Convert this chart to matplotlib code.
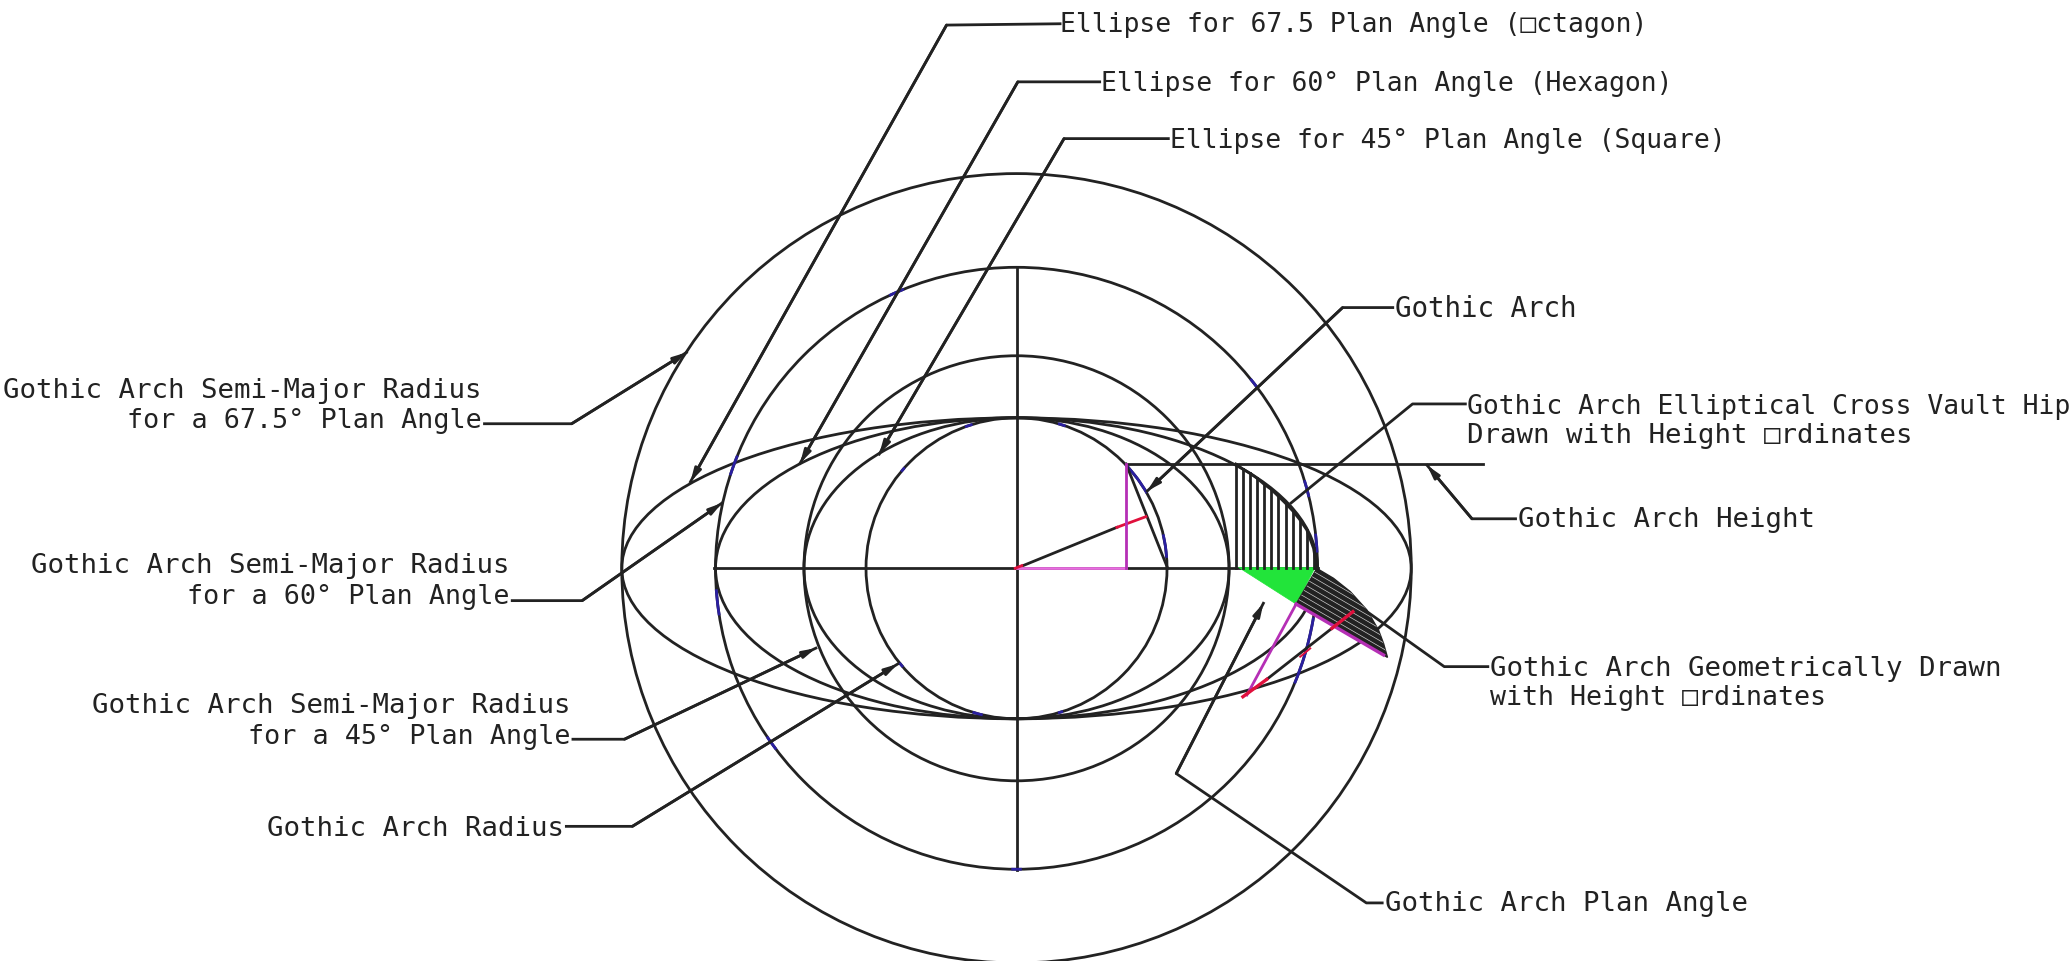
import numpy as np
import matplotlib
matplotlib.use("Agg")
import matplotlib.pyplot as plt
from matplotlib.patches import Arc, Circle, Ellipse, Polygon

center = (770, 430.5)
circle_radii = [299, 228, 161, 114]
ellipse_major = [299, 228, 161]
ellipse_minor = 114

# blue pieces of the circles: radius, start angle, end angle
blue_arcs = [
    (228, -39, -37), (228, -17, -13.7), (228, -6.6, -3), (228, 9.4, 22.5),
    (228, 198, 202), (228, 171, 176), (228, 143, 146), (228, 89, 91),
    (228, 245, 248),
    (114, -43.6, -30), (114, -13, -4), (114, 103, 107), (114, 72, 74),
    (114, 250, 253), (114, 286, 289), (114, 220, 222), (114, 139, 141),
]

# elevation of the hip with its height ordinates
ord_x = [936.1, 941.4, 947, 952.3, 957.6, 962.9, 968.2, 973.8, 979.1, 984.4, 989.9, 995, 997.5]
ord_y = [351.5, 355.3, 358.6, 362.4, 366.9, 370.7, 375.8, 381.3, 386.9, 393.4, 401.5, 415.4, 430.6]

green_tri = [(938.2, 429.8), (996.2, 429.8), (981.8, 457.6)]

# geometrically drawn arch, dark hatched shape
arch_x = [997.5, 1010.1, 1022.8, 1035.4, 1044.2, 1048, 1051]
arch_y = [430.6, 438.1, 448.2, 462.1, 477.3, 487.4, 498]
base_a = (981.8, 457.6)
base_b = (1048, 496.2)
hatch_offsets = [4, 8, 12, 16, 20, 24, 28, 32, 36, 40, 44]

# (points of the leader, has arrow head)
leaders = [
    ([(803, 18), (717, 19), (523, 365)], True),
    ([(833, 62), (771, 62), (606, 351)], True),
    ([(885, 105), (806, 105), (666, 344)], True),
    ([(1055, 233), (1017, 233), (869, 372)], True),
    ([(1110, 306), (1070, 306), (978, 381)], False),
    ([(1148, 393), (1115, 393), (1081, 352.5)], True),
    ([(1127, 505), (1094, 505), (1035, 463)], False),
    ([(1047, 684), (1035, 684), (891, 586), (957, 457)], True),
    ([(367, 321), (433, 321), (520, 267)], True),
    ([(388, 455), (441, 455), (547, 381)], True),
    ([(434, 560), (473, 560), (618, 491)], True),
    ([(429, 626), (479, 626), (680, 503)], True),
]

left_labels = [
    "Ellipse for 67.5 Plan Angle (\u25a1ctagon)",
    "Ellipse for 60\u00b0 Plan Angle (Hexagon)",
    "Ellipse for 45\u00b0 Plan Angle (Square)",
    "Gothic Arch",
    "Gothic Arch Elliptical Cross Vault Hip",
    "Drawn with Height \u25a1rdinates",
    "Gothic Arch Height",
    "Gothic Arch Geometrically Drawn",
    "with Height \u25a1rdinates",
    "Gothic Arch Plan Angle",
]
left_pos = [(803, 19), (834, 64), (886, 107), (1057, 234), (1111, 308), (1111, 330),
            (1150, 394), (1129, 507), (1129, 529), (1049, 685)]
left_size = [19, 19, 19, 19.8, 19, 19.7, 19.7, 19.7, 19.2, 19.7]

right_labels = [
    "Gothic Arch Semi-Major Radius",
    "for a 67.5\u00b0 Plan Angle",
    "Gothic Arch Semi-Major Radius",
    "for a 60\u00b0 Plan Angle",
    "Gothic Arch Semi-Major Radius",
    "for a 45\u00b0 Plan Angle",
    "Gothic Arch Radius",
]
right_pos = [(365, 296), (365, 319), (386, 429), (386, 452), (432, 535), (432, 558), (427, 628)]
right_size = [19.7, 19.3, 19.7, 19.3, 19.7, 19.3, 19.7]

INK = "#222222"
BLUE = "#2a1fa0"
MAGENTA = "#b52fb5"
PINK = "#e86ce0"
RED = "#e0103c"
GREEN = "#22e43a"
LW = 2.0

fig = plt.figure(figsize=(20.7, 9.61), dpi=100)
ax = fig.add_axes([0, 0, 1, 1])
ax.set_xlim(0, 1568)
ax.set_ylim(728, 0)
ax.axis("off")

cx, cy = center
for r in circle_radii:
    ax.add_patch(Circle(center, r, fill=False, ec=INK, lw=LW))
for a in ellipse_major:
    ax.add_patch(Ellipse(center, 2 * a, 2 * ellipse_minor, fill=False, ec=INK, lw=LW))
for r, t1, t2 in blue_arcs:
    ax.add_patch(Arc(center, 2 * r, 2 * r, theta1=t1, theta2=t2, ec=BLUE, lw=LW, zorder=3))

# axes of the plan
ax.plot([541, 998], [cy, cy], color=INK, lw=LW)
ax.plot([cx, cx], [202, 659], color=INK, lw=LW)
ax.plot([853, 1123], [351.5, 351.5], color=INK, lw=LW)

# gothic arch in plan, chord + radius line
ax.plot([853, 884.5], [351.5, 430.5], color=INK, lw=LW, zorder=3)
ax.plot([cx, 846], [cy, 399.5], color=INK, lw=LW, zorder=3)
ax.plot([846, 868], [399.5, 391.4], color=RED, lw=LW, zorder=4)
ax.plot([cx, 853], [cy, cy], color=PINK, lw=LW, zorder=4)
ax.plot([853, 853], [430.5, 351.5], color=MAGENTA, lw=LW, zorder=4)
ax.plot([cx - 1, cx + 4], [cy, cy - 2], color=RED, lw=LW, zorder=5)

# height ordinates
ax.plot(ord_x, ord_y, color=INK, lw=LW, zorder=3)
for x, y in zip(ord_x[:-1], ord_y[:-1]):
    ax.plot([x, x], [y, cy], color=INK, lw=LW, zorder=3)
ax.add_patch(Polygon(green_tri, fc=GREEN, ec=GREEN, lw=0.5, zorder=2))

# dark hatched arch
outline = list(zip(arch_x, arch_y)) + [base_b, base_a]
shape = Polygon(outline, fc=INK, ec=INK, lw=1.0, zorder=3)
ax.add_patch(shape)
ux, uy = np.subtract(base_b, base_a) / np.hypot(*np.subtract(base_b, base_a))
nx, ny = uy, -ux
for d in hatch_offsets:
    ln, = ax.plot([base_a[0] + nx * d - ux * 5, base_b[0] + nx * d],
                  [base_a[1] + ny * d - uy * 5, base_b[1] + ny * d],
                  color="#cccccc", lw=0.5, zorder=3.5)
    ln.set_clip_path(shape)
ax.plot([base_a[0], base_b[0]], [base_a[1], base_b[1]], color=MAGENTA, lw=LW + 0.4, zorder=4)
ax.plot([base_a[0], 944.5], [base_a[1], 526.5], color=MAGENTA, lw=LW, zorder=4)

# red/black line across the arch
ax.plot([959.6, 1008.9], [514.6, 476], color=INK, lw=LW, zorder=4)
ax.plot([941.5, 959.6], [527.8, 514.6], color=RED, lw=LW + 0.4, zorder=5)
ax.plot([984.9, 992.5], [497.5, 491.2], color=RED, lw=LW * 0.7, zorder=5)
ax.plot([1008.9, 1024.8], [476, 463.4], color=RED, lw=LW + 0.4, zorder=5)

# leaders
for pts, head in leaders:
    xs, ys = zip(*pts)
    ax.plot(xs, ys, color=INK, lw=LW, zorder=3)
    if head:
        ax.annotate("", xy=pts[-1], xytext=pts[-2],
                    arrowprops=dict(arrowstyle="-|>,head_length=0.75,head_width=0.2",
                                    color=INK, lw=LW, shrinkA=0, shrinkB=0),
                    zorder=3)

fam = ["DejaVu Sans Mono", "DejaVu Sans"]
for txt, (x, y), fs in zip(left_labels, left_pos, left_size):
    ax.text(x, y, txt, ha="left", va="center", fontsize=fs, color=INK, family=fam)
for txt, (x, y), fs in zip(right_labels, right_pos, right_size):
    ax.text(x, y, txt, ha="right", va="center", fontsize=fs, color=INK, family=fam)

fig.savefig("out.png", dpi=100)
